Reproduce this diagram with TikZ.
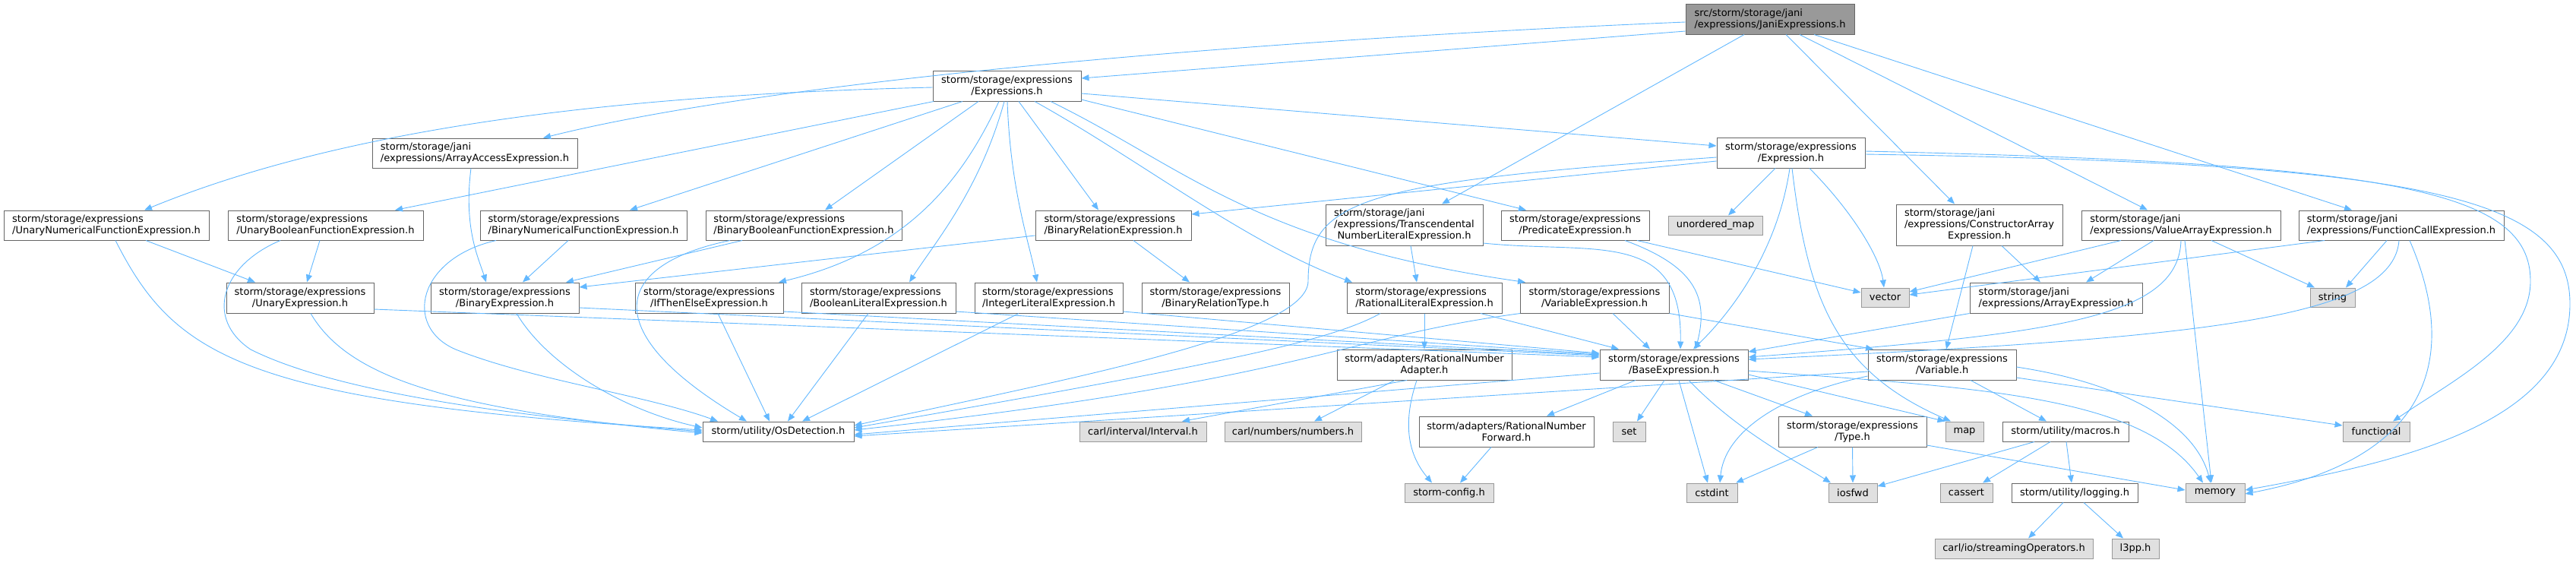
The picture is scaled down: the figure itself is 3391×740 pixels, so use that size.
\documentclass[tikz,border=0pt]{standalone}
\usepackage{fontspec}
\newfontfamily\dvs{DejaVu Sans}
\usetikzlibrary{arrows.meta}
\definecolor{edgec}{HTML}{63B8FF}
\definecolor{gfour}{HTML}{666666}
\definecolor{gsix}{HTML}{999999}
\definecolor{gnine}{HTML}{E0E0E0}
\begin{document}
\begin{tikzpicture}[x=1pt,y=-1pt,
  box/.style={draw=gfour, fill=white, line width=1pt, inner xsep=3pt, inner ysep=0pt,
    font=\dvs\fontsize{13}{15}\selectfont, align=center, text=black},
  lbox/.style={box, align=left},
  ext/.style={box, draw=gsix, fill=gnine},
  root/.style={box, align=left, fill=gsix},
  sz/.style 2 args={minimum width=#1pt, minimum height=#2pt},
  e/.style={draw=edgec, line width=0.9pt, -{Triangle[length=10pt,width=8pt]}}]
\useasboundingbox (0,0) rectangle (3391,740);
% ---- nodes
\node[root, sz={222}{40}] (jani) at (2330,25) {src/storm/storage/jani\\/expressions/JaniExpressions.h};
\node[box, sz={195}{40}] (exprs) at (1325.5,113) {storm/storage/expressions\\/Expressions.h};
\node[lbox, sz={270}{39}] (arracc) at (625,201.5) {storm/storage/jani\\/expressions/ArrayAccessExpression.h};
\node[box, sz={195}{40}] (expr) at (2357.5,201) {storm/storage/expressions\\/Expression.h};
\node[lbox, sz={270}{39}] (unum) at (140,296.5) {storm/storage/expressions\\/UnaryNumericalFunctionExpression.h};
\node[lbox, sz={257}{39}] (ubool) at (428.5,296.5) {storm/storage/expressions\\/UnaryBooleanFunctionExpression.h};
\node[lbox, sz={272}{39}] (bnum) at (768,296.5) {storm/storage/expressions\\/BinaryNumericalFunctionExpression.h};
\node[lbox, sz={258}{39}] (bbool) at (1058,296.5) {storm/storage/expressions\\/BinaryBooleanFunctionExpression.h};
\node[lbox, sz={205}{39}] (brel) at (1465.5,296.5) {storm/storage/expressions\\/BinaryRelationExpression.h};
\node[box, sz={207}{54}] (transc) at (1848.5,296) {\begin{tabular}{@{}l@{}}storm/storage/jani\\/expressions/Transcendental\\\multicolumn{1}{@{}c@{}}{NumberLiteralExpression.h}\end{tabular}};
\node[box, sz={195}{39}] (pred) at (2073.5,296.5) {storm/storage/expressions\\/PredicateExpression.h};
\node[ext, sz={124}{25}] (umap) at (2258,296.5) {unordered\_map};
\node[box, sz={219}{54}] (carr) at (2605.5,296) {\begin{tabular}{@{}l@{}}storm/storage/jani\\/expressions/ConstructorArray\\\multicolumn{1}{@{}c@{}}{Expression.h}\end{tabular}};
\node[lbox, sz={262}{39}] (varr) at (2871,296.5) {storm/storage/jani\\/expressions/ValueArrayExpression.h};
\node[lbox, sz={270}{39}] (fcall) at (3161,296.5) {storm/storage/jani\\/expressions/FunctionCallExpression.h};
\node[box, sz={194}{40}] (uexpr) at (395,392) {storm/storage/expressions\\/UnaryExpression.h};
\node[box, sz={195}{40}] (bexpr) at (664.5,392) {storm/storage/expressions\\/BinaryExpression.h};
\node[box, sz={195}{40}] (ite) at (933.5,392) {storm/storage/expressions\\/IfThenElseExpression.h};
\node[lbox, sz={203}{40}] (blit) at (1156.5,392) {storm/storage/expressions\\/BooleanLiteralExpression.h};
\node[lbox, sz={195}{40}] (ilit) at (1380.5,392) {storm/storage/expressions\\/IntegerLiteralExpression.h};
\node[box, sz={194}{40}] (brtype) at (1600,392) {storm/storage/expressions\\/BinaryRelationType.h};
\node[lbox, sz={204}{40}] (rlit) at (1875,392) {storm/storage/expressions\\/RationalLiteralExpression.h};
\node[box, sz={196}{40}] (vexpr) at (2099,392) {storm/storage/expressions\\/VariableExpression.h};
\node[ext, sz={63}{25}] (vector) at (2481.5,391.5) {vector};
\node[lbox, sz={227}{40}] (arrexpr) at (2706.5,392) {storm/storage/jani\\/expressions/ArrayExpression.h};
\node[ext, sz={59}{25}] (string) at (3070.5,391.5) {string};
\node[box, sz={230}{40}] (rna) at (1875,480) {storm/adapters/RationalNumber\\Adapter.h};
\node[box, sz={195}{40}] (base) at (2203.5,480) {storm/storage/expressions\\/BaseExpression.h};
\node[box, sz={195}{40}] (var) at (2556.5,480) {storm/storage/expressions\\/Variable.h};
\node[box, sz={199}{26}] (osdet) at (1024.5,568) {storm/utility/OsDetection.h};
\node[ext, sz={167}{26}] (interval) at (1504.5,568) {carl/interval/Interval.h};
\node[ext, sz={180}{26}] (numbers) at (1702,568) {carl/numbers/numbers.h};
\node[box, sz={230}{40}] (rnf) at (1983,568) {storm/adapters/RationalNumber\\Forward.h};
\node[ext, sz={43}{26}] (set) at (2144.5,568) {set};
\node[box, sz={195}{40}] (type) at (2438.5,568) {storm/storage/expressions\\/Type.h};
\node[ext, sz={50}{26}] (map) at (2586,568) {map};
\node[box, sz={166}{26}] (macros) at (2719,568) {storm/utility/macros.h};
\node[ext, sz={88}{26}] (functional) at (3128,568) {functional};
\node[ext, sz={117}{25}] (config) at (1907.5,648.5) {storm-config.h};
\node[ext, sz={67}{25}] (cstdint) at (2253.5,648.5) {cstdint};
\node[ext, sz={64}{25}] (iosfwd) at (2439,648.5) {iosfwd};
\node[ext, sz={69}{25}] (cassert) at (2588.5,648.5) {cassert};
\node[box, sz={166}{25}] (logging) at (2731,648.5) {storm/utility/logging.h};
\node[ext, sz={78}{25}] (memory) at (2916,648.5) {memory};
\node[ext, sz={208}{26}] (streamops) at (2651,722) {carl/io/streamingOperators.h};
\node[ext, sz={62}{26}] (l3pp) at (2811,722) {l3pp.h};
% ---- JaniExpressions.h
\draw[e] (jani.west |- 0,29) .. controls (1600,55) and (1000,110) .. (715,0 |- arracc.north);
\draw[e] (jani.west |- 0,41) -- (exprs.east |- 0,103);
\draw[e] (2296,0 |- jani.south) -- (1898,0 |- transc.north);
\draw[e] (2351,0 |- jani.south) -- (2573,0 |- carr.north);
\draw[e] (2369,0 |- jani.south) -- (2827,0 |- varr.north);
\draw[e] (2388,0 |- jani.south) -- (3096,0 |- fcall.north);
% ---- Expressions.h
\draw[e] (exprs.west |- 0,115) .. controls (800,125) and (450,170) .. (190,0 |- unum.north);
\draw[e] (1229,0 |- exprs.south) -- (520,0 |- ubool.north);
\draw[e] (1267,0 |- exprs.south) -- (829,0 |- bnum.north);
\draw[e] (1288,0 |- exprs.south) -- (1086,0 |- bbool.north);
\draw[e] (1315,0 |- exprs.south) .. controls (1270,230) and (1200,330) .. (1025,0 |- ite.north);
\draw[e] (1322,0 |- exprs.south) .. controls (1290,250) and (1230,320) .. (1197,0 |- blit.north);
\draw[e] (1326,0 |- exprs.south) .. controls (1330,250) and (1355,320) .. (1365,0 |- ilit.north);
\draw[e] (1341,0 |- exprs.south) -- (1446,0 |- brel.north);
\draw[e] (1362,0 |- exprs.south) .. controls (1500,210) and (1640,320) .. (1780,0 |- rlit.north);
\draw[e] (1383,0 |- exprs.south) .. controls (1560,220) and (1650,320) .. (2008,0 |- vexpr.north);
\draw[e] (exprs.east |- 0,123) -- (expr.west |- 0,192);
\draw[e] (exprs.east |- 0,131) -- (2009,0 |- pred.north);
% ---- ArrayAccessExpression.h
\draw[e] (620,0 |- arracc.south) .. controls (610,300) and (630,340) .. (640,0 |- bexpr.north);
% ---- Expression.h
\draw[e] (expr.west |- 0,212) -- (brel.east |- 0,282);
\draw[e] (expr.west |- 0,207) .. controls (1800,240) and (1722,260) .. (1722,370) .. controls (1722,440) and (1400,500) .. (osdet.east |- 0,560);
\draw[e] (2337,0 |- expr.south) -- (2275,0 |- umap.north);
\draw[e] (2356,0 |- expr.south) .. controls (2340,330) and (2280,410) .. (2229,0 |- base.north);
\draw[e] (2359,0 |- expr.south) .. controls (2380,400) and (2420,490) .. (2568,0 |- map.north);
\draw[e] (2382,0 |- expr.south) .. controls (2440,280) and (2475,340) .. (2480,0 |- vector.north);
\draw[e] (expr.east |- 0,199) .. controls (3150,215) and (3331,250) .. (3331,370) .. controls (3331,450) and (3230,500) .. (3150,0 |- functional.north);
\draw[e] (expr.east |- 0,203) .. controls (3200,215) and (3383,260) .. (3383,400) .. controls (3383,560) and (3150,610) .. (memory.east |- 0,645);
% ---- Transcendental, Predicate
\draw[e] (1857,0 |- transc.south) -- (1865,0 |- rlit.north);
\draw[e] (transc.east |- 0,320) .. controls (2100,335) and (2215,300) .. (2212,0 |- base.north);
\draw[e] (2139,0 |- pred.south) .. controls (2230,350) and (2250,390) .. (2232,0 |- base.north);
\draw[e] (2155,0 |- pred.south) -- (vector.west |- 0,385);
% ---- ConstructorArray, ValueArray, FunctionCall
\draw[e] (2635,0 |- carr.south) -- (2686,0 |- arrexpr.north);
\draw[e] (2597,0 |- carr.south) -- (2562,0 |- var.north);
\draw[e] (2792,0 |- varr.south) -- (vector.east |- 0,384);
\draw[e] (2835,0 |- varr.south) -- (2746,0 |- arrexpr.north);
\draw[e] (2871,0 |- varr.south) .. controls (2868,420) and (2700,440) .. (base.east |- 0,470);
\draw[e] (2876,0 |- varr.south) -- (2911,0 |- memory.north);
\draw[e] (2911,0 |- varr.south) -- (3047,0 |- string.north);
\draw[e] (3060,0 |- fcall.south) -- (vector.east |- 0,388);
\draw[e] (3142,0 |- fcall.south) -- (3088,0 |- string.north);
\draw[e] (3158,0 |- fcall.south) .. controls (3150,420) and (2900,445) .. (base.east |- 0,473);
\draw[e] (3172,0 |- fcall.south) .. controls (3230,450) and (3220,600) .. (memory.east |- 0,650);
% ---- function expressions
\draw[e] (152,0 |- unum.south) .. controls (230,470) and (320,530) .. (osdet.west |- 0,566);
\draw[e] (192,0 |- unum.south) -- (336,0 |- uexpr.north);
\draw[e] (369,0 |- ubool.south) .. controls (290,350) and (270,420) .. (330,460) .. controls (450,520) and (700,550) .. (osdet.west |- 0,568);
\draw[e] (421,0 |- ubool.south) -- (404,0 |- uexpr.north);
\draw[e] (653,0 |- bnum.south) .. controls (550,340) and (530,430) .. (600,460) .. controls (700,500) and (850,520) .. (945,0 |- osdet.north);
\draw[e] (748,0 |- bnum.south) -- (688,0 |- bexpr.north);
\draw[e] (961,0 |- bbool.south) .. controls (800,350) and (790,440) .. (983,0 |- osdet.north);
\draw[e] (977,0 |- bbool.south) -- (745,0 |- bexpr.north);
\draw[e] (brel.west |- 0,310) -- (bexpr.east |- 0,378);
\draw[e] (1492,0 |- brel.south) -- (1566,0 |- brtype.north);
% ---- expression row
\draw[e] (uexpr.east |- 0,407) -- (base.west |- 0,470);
\draw[e] (409,0 |- uexpr.south) .. controls (460,500) and (600,540) .. (osdet.west |- 0,570);
\draw[e] (bexpr.east |- 0,405) -- (base.west |- 0,468);
\draw[e] (680,0 |- bexpr.south) .. controls (720,480) and (820,540) .. (osdet.west |- 0,563);
\draw[e] (ite.east |- 0,410) -- (base.west |- 0,467);
\draw[e] (945,0 |- ite.south) -- (1013,0 |- osdet.north);
\draw[e] (blit.east |- 0,410) -- (base.west |- 0,466);
\draw[e] (1143,0 |- blit.south) -- (1037,0 |- osdet.north);
\draw[e] (ilit.east |- 0,410) -- (base.west |- 0,465);
\draw[e] (1341,0 |- ilit.south) -- (1056,0 |- osdet.north);
\draw[e] (1949,0 |- rlit.south) -- (2131,0 |- base.north);
\draw[e] (1817,0 |- rlit.south) .. controls (1750,450) and (1600,480) .. (osdet.east |- 0,563);
\draw[e] (rlit.south) -- (rna.north);
\draw[e] (2123,0 |- vexpr.south) -- (2172,0 |- base.north);
\draw[e] (vexpr.south east) -- (2466,0 |- var.north);
\draw[e] (2001,0 |- vexpr.south) .. controls (1760,445) and (1720,500) .. (osdet.east |- 0,566);
\draw[e] (arrexpr.south west) -- (base.east |- 0,463);
% ---- BaseExpression.h
\draw[e] (base.west |- 0,491) -- (osdet.east |- 0,572);
\draw[e] (2153,0 |- base.south) -- (2036,0 |- rnf.north);
\draw[e] (2191,0 |- base.south) -- (2155,0 |- set.north);
\draw[e] (2210,0 |- base.south) -- (2248,0 |- cstdint.north);
\draw[e] (2223,0 |- base.south) .. controls (2290,570) and (2370,610) .. (2410,0 |- iosfwd.north);
\draw[e] (2256,0 |- base.south) -- (2386,0 |- type.north);
\draw[e] (base.east |- 0,493) -- (map.north west);
\draw[e] (base.east |- 0,488) .. controls (2600,510) and (2820,520) .. (2900,0 |- memory.north);
% ---- Variable.h
\draw[e] (var.west |- 0,489) -- (osdet.east |- 0,574);
\draw[e] (var.west |- 0,495) .. controls (2340,520) and (2270,570) .. (2264,0 |- cstdint.north);
\draw[e] (var.east |- 0,483) .. controls (2800,505) and (2890,560) .. (2910,0 |- memory.north);
\draw[e] (var.east |- 0,497) -- (functional.west |- 0,560);
\draw[e] (2594,0 |- var.south) -- (2694,0 |- macros.north);
% ---- macros, type, logging
\draw[e] (2699,0 |- macros.south) -- (2610,0 |- cassert.north);
\draw[e] (2720,0 |- macros.south) -- (2727,0 |- logging.north);
\draw[e] (2678,0 |- macros.south) -- (iosfwd.east |- 0,640);
\draw[e] (2393,0 |- type.south) -- (2285,0 |- cstdint.north);
\draw[e] (type.south) -- (iosfwd.north);
\draw[e] (type.east |- 0,586) -- (memory.west |- 0,645);
\draw[e] (2716,0 |- logging.south) -- (2670,0 |- streamops.north);
\draw[e] (2743,0 |- logging.south) -- (2795,0 |- l3pp.north);
% ---- adapters
\draw[e] (1852,0 |- rna.south) -- (1556,0 |- interval.north);
\draw[e] (1836,0 |- rna.south) -- (1730,0 |- numbers.north);
\draw[e] (1865,0 |- rna.south) .. controls (1845,560) and (1855,600) .. (1885,0 |- config.north);
\draw[e] (1963,0 |- rnf.south) -- (1922,0 |- config.north);
\end{tikzpicture}
\end{document}
